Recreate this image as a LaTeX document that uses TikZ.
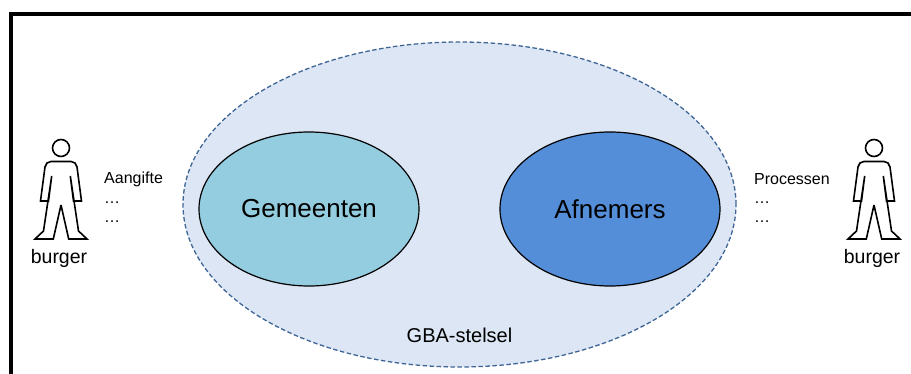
\documentclass[tikz,border=0pt]{standalone}
\usepackage{fontspec}
\setmainfont{Liberation Sans}
\usetikzlibrary{shapes.geometric}
\definecolor{stelselfill}{HTML}{DCE6F5}
\definecolor{stelselline}{HTML}{3F6595}
\definecolor{gemeentenfill}{HTML}{94CDDF}
\definecolor{afnemersfill}{HTML}{558ED8}
\tikzset{
	domein/.style={ellipse, draw=black, line width=1.2pt, inner sep=0pt, minimum width=220pt, minimum height=154pt, font=\fontsize{26}{30}\selectfont},
	lijst/.style={anchor=west, inner sep=0pt, font=\fontsize{16}{18}\selectfont},
	burgerlabel/.style={inner sep=0pt, font=\fontsize{19.5}{22}\selectfont}
}
\begin{document}
\begin{tikzpicture}[x=1pt, y=-1pt]
	\useasboundingbox (0,0) rectangle (911,374);
	%frame
	\draw[line width=4pt] (10.5,374) -- (10.5,14) -- (911,14);
	%ellipses
	\node[ellipse, draw=stelselline, fill=stelselfill, dash pattern=on 4.5pt off 2.5pt, line width=1.3pt, inner sep=0pt, minimum width=553pt, minimum height=325pt] (stelsel) at (459.5,204.5) {};
	\node[domein, fill=gemeentenfill] (gemeenten) at (309,209) {Gemeenten};
	\node[domein, fill=afnemersfill] (afnemers) at (610,209) {Afnemers};
	\node[inner sep=0pt, font=\fontsize{20}{22}\selectfont] (stelsellabel) at (459.5,335.5) {GBA-stelsel};
	%burgers
	\foreach \px/\pname in {61/links, 874/rechts} {
		\begin{scope}[shift={(\px,148)}]
			\draw[line width=1.6pt] (0,0) circle (8.5);
			\draw[line width=1.6pt, line join=miter, miter limit=4]
				(0,13.5) -- (10,13.5) -- (14,15) -- (16,19) -- (20.5,53) -- (12.5,53) -- (9.3,28)
				-- (17.5,83) -- (26,91) -- (7.7,91) -- (0,57) -- (-7.7,91) -- (-26,91)
				-- (-17.5,83) -- (-9.3,28) -- (-12.5,53) -- (-20.5,53) -- (-16,19) -- (-14,15) -- (-10,13.5) -- cycle;
		\end{scope}
		\node[burgerlabel] (burger\pname) at (\px-2,258) {burger};
	}
	%lists
	\node[lijst] (aangifte) at (104,179.5) {Aangifte};
	\node[lijst] (aangifte dots a) at (104,203) {…};
	\node[lijst] (aangifte dots b) at (104,222) {…};
	\node[lijst] (processen) at (754,179.5) {Processen};
	\node[lijst] (processen dots a) at (754,203) {…};
	\node[lijst] (processen dots b) at (754,222) {…};
\end{tikzpicture}
\end{document}
